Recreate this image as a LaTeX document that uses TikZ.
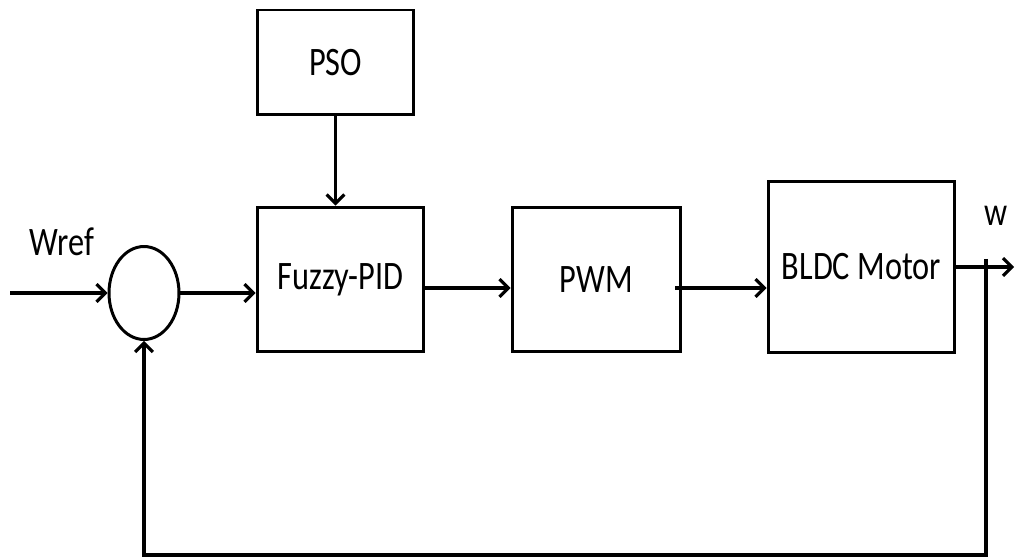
\documentclass[tikz,border=0pt]{standalone}
\usepackage{fontspec}
\setmainfont{Carlito}[FakeStretch=0.8]
\usetikzlibrary{arrows.meta,shapes.geometric}

\tikzset{
  block/.style={draw, line width=1.7pt, minimum height=2.9cm, inner sep=0pt,
    font=\fontsize{23}{27}\selectfont},
  tag/.style={inner sep=0pt, font=\fontsize{23}{27}\selectfont},
  link/.style={line width=1.8pt, -{Straight Barb[length=5pt,width=10pt]}},
}

\begin{document}
\begin{tikzpicture}[x=0.02cm, y=-0.02cm]
    \useasboundingbox (0,0) rectangle (1015,560);

    % Define the positions of the nodes
    \node[block, minimum width=3.14cm, minimum height=2.1cm] (pso) at (335.5,62.5) {PSO};
    \node[block, minimum width=3.34cm] (fuzzy) at (340.5,279.5) {Fuzzy-PID};
    \node[block, minimum width=3.38cm] (pwm) at (596.5,279.5) {PWM};
    \node[block, minimum width=3.74cm, minimum height=3.42cm] (bldc) at (861.5,267) {BLDC Motor};

    \node[draw, ellipse, line width=1.7pt, inner sep=0pt,
          minimum width=1.4cm, minimum height=1.86cm] (sum) at (144,293) {};

    \node[tag] (wref) at (62,242) {Wref};
    \node[tag] (w) at (996,216) {w};

    \coordinate (in) at (10,293);
    \coordinate (out) at (1014,267);
    \coordinate (tap) at (986,259);
    \coordinate (bottom) at (986,555);

    % Draw the edges
    \draw[link] (in) -- (sum.west);
    \draw[link] (sum.east) -- (sum.east -| fuzzy.west);
    \draw[link] (pso) -- (pso |- fuzzy.north);
    \draw[link] ([yshift=-0.17cm]fuzzy.east) -- ([yshift=-0.17cm]pwm.west);
    \draw[link] ([yshift=-0.17cm,xshift=-0.14cm]pwm.east) -- ([yshift=-0.17cm]pwm.east -| bldc.west);
    \draw[link] (bldc.east) -- (out);

    \draw[link] (tap) -- (bottom) -| (sum.south);
\end{tikzpicture}
\end{document}
